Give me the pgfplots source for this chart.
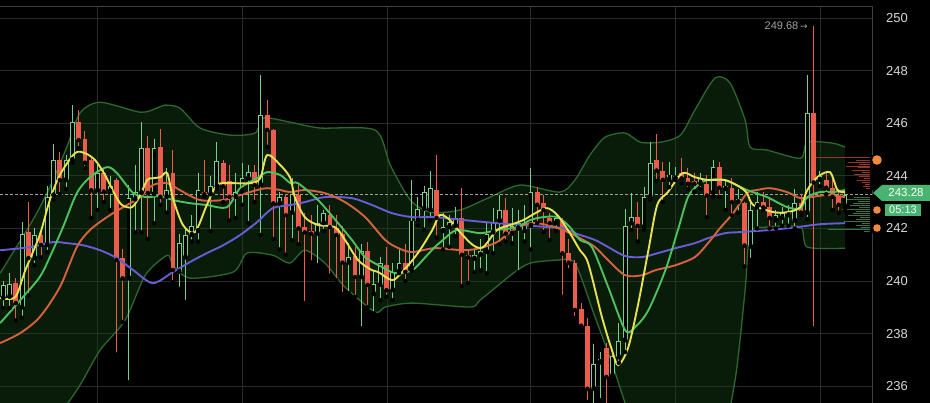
\documentclass[border=0pt]{standalone}
\usepackage{fontspec}
\setmainfont{Liberation Sans}
\newfontfamily\dejavu{DejaVu Sans}
\usepackage{pgfplots}
\pgfplotsset{compat=1.18}
\usepackage{pgfplotstable}
\usepgfplotslibrary{fillbetween}
\pagecolor{black}

\definecolor{bbfill}{RGB}{22,76,26}
\definecolor{bbline}{RGB}{44,104,46}
\definecolor{mayel}{RGB}{232,226,82}
\definecolor{magrn}{RGB}{78,192,92}
\definecolor{maorg}{RGB}{214,98,62}
\definecolor{mapur}{RGB}{106,92,212}
\definecolor{cgreen}{RGB}{122,206,138}
\definecolor{cred}{RGB}{236,92,76}
\definecolor{gridc}{RGB}{42,42,42}
\definecolor{axline}{RGB}{64,64,64}
\definecolor{ticklbl}{RGB}{215,215,215}
\definecolor{taggreen}{RGB}{72,180,112}
\definecolor{dotorg}{RGB}{240,136,62}
\definecolor{annot}{RGB}{160,160,160}
\definecolor{vpred}{RGB}{150,52,46}
\definecolor{vpgrn}{RGB}{44,120,78}

% green (rising) candles: index open high low close
\pgfplotstableread{
i o h l c
0 239.35 240.00 238.97 239.85
1 239.40 240.30 238.97 239.90
3 239.00 242.25 238.60 241.80
5 240.87 242.00 240.60 241.75
7 241.37 243.60 241.10 243.19
8 243.25 245.20 243.10 244.60
10 243.84 244.80 243.50 244.60
11 244.60 246.70 244.50 246.05
15 243.45 244.40 242.70 244.10
17 243.40 244.00 242.70 243.60
20 240.10 243.65 236.15 243.15
21 243.10 244.40 241.85 243.40
22 243.35 246.05 241.85 245.05
24 243.30 245.40 242.20 245.05
26 243.20 244.30 242.60 243.45
28 240.35 241.80 239.70 241.45
29 240.90 242.00 239.20 241.75
30 241.75 242.50 241.50 242.10
31 241.90 244.10 241.50 243.45
33 243.30 244.00 241.90 243.60
34 243.60 245.30 243.50 244.55
37 243.20 244.10 242.40 243.40
38 243.40 244.50 242.90 243.90
39 243.90 244.40 242.20 244.15
41 243.65 247.85 241.75 246.30
44 242.95 243.40 241.20 243.20
46 242.60 243.90 241.55 243.30
50 241.80 242.90 240.60 242.20
51 242.20 242.70 241.90 242.60
55 240.70 241.44 239.54 240.90
57 240.15 241.40 238.20 241.15
59 239.50 240.41 238.78 239.90
60 239.85 240.91 239.27 240.70
62 239.65 240.68 239.27 240.35
63 240.35 241.25 240.30 240.70
65 240.50 243.85 240.40 242.30
66 242.30 243.19 242.13 242.75
67 242.75 243.60 241.95 243.40
68 242.70 244.20 242.30 243.55
70 241.90 242.60 241.20 242.05
71 242.05 242.50 241.30 242.25
72 242.10 242.80 241.70 242.40
75 240.85 241.17 240.34 241.00
76 241.00 241.60 240.40 241.15
77 241.10 242.24 240.30 241.80
78 241.85 242.77 241.06 242.25
79 242.30 243.27 241.40 242.70
81 241.80 242.77 241.44 242.10
82 242.00 242.70 240.34 242.20
83 241.90 242.90 241.50 242.20
84 242.10 244.30 241.20 243.40
88 242.20 242.60 241.90 242.40
94 235.90 237.60 235.20 236.85
95 236.90 237.29 235.47 237.05
97 236.40 237.37 236.23 237.15
98 237.10 238.40 236.88 237.70
99 237.75 242.75 237.30 242.10
100 242.20 243.34 241.94 242.45
102 242.05 243.57 241.94 243.20
103 243.20 245.30 243.10 244.50
106 243.85 244.52 243.57 244.05
107 243.90 244.33 243.84 244.00
111 243.70 244.10 243.50 243.90
113 243.35 244.60 243.19 244.35
115 243.50 243.84 242.70 243.60
117 243.00 243.50 242.60 243.10
119 241.30 243.00 240.80 242.70
120 242.80 243.40 242.00 243.00
123 242.30 242.70 242.00 242.50
124 242.40 242.80 242.10 242.60
125 242.50 242.90 242.10 242.60
126 242.30 243.50 242.00 242.95
128 242.60 247.83 242.35 246.40
130 243.85 244.20 243.60 244.00
134 242.85 243.40 242.70 243.28
}\upc

% red (falling) candles
\pgfplotstableread{
i o h l c
2 239.92 240.10 238.50 239.16
4 241.85 243.00 239.45 240.87
6 241.75 242.00 240.90 241.37
9 244.60 244.90 243.30 243.84
12 246.05 246.50 245.05 245.36
13 245.40 245.70 244.30 244.50
14 244.60 244.70 242.40 243.45
16 244.10 244.30 243.00 243.40
18 243.84 243.90 237.20 240.80
19 240.87 241.20 238.44 240.10
23 245.05 245.50 241.60 243.35
25 245.10 245.80 242.90 243.20
27 244.10 244.97 239.95 240.42
32 243.40 244.60 243.20 243.30
35 244.50 244.60 243.00 243.60
36 243.80 244.40 242.30 243.20
40 244.15 244.40 243.00 243.65
42 246.30 246.90 245.10 245.75
43 245.75 245.80 241.60 242.95
45 243.20 243.30 241.00 242.50
47 243.27 243.70 241.40 242.00
48 242.05 242.60 239.16 241.85
49 241.90 242.50 240.70 241.80
52 242.50 242.90 240.20 242.05
53 242.00 242.50 240.03 241.75
54 241.80 242.10 239.50 240.70
56 240.95 241.30 239.40 240.15
58 241.15 241.50 239.00 239.85
61 240.60 241.30 239.40 239.65
64 240.70 241.40 240.00 240.35
69 243.45 244.80 241.65 242.40
73 242.40 243.55 239.80 241.00
74 241.00 241.17 239.92 240.90
80 242.70 243.15 241.50 241.80
85 243.40 243.57 242.20 242.90
86 242.95 243.27 241.86 242.70
87 242.40 242.58 241.56 242.20
89 242.30 242.40 239.40 241.05
90 241.05 241.60 240.40 240.70
91 240.70 240.80 238.60 238.90
92 238.95 239.16 238.13 238.30
93 238.30 238.60 235.40 235.90
96 237.45 237.65 235.30 236.35
101 242.45 243.00 241.50 242.10
104 244.60 245.60 243.80 244.20
105 244.20 244.52 243.00 243.85
108 244.10 244.67 243.72 243.90
109 243.90 244.30 243.50 243.70
110 243.80 244.10 243.40 243.70
112 243.70 244.03 242.43 243.25
114 244.35 244.52 243.19 243.55
116 243.55 243.90 242.50 243.00
118 242.95 243.00 240.55 241.35
121 243.00 243.40 242.70 242.80
122 242.80 243.20 242.00 242.40
127 242.95 243.30 242.50 242.60
129 246.40 249.68 238.20 243.75
131 243.85 244.20 243.30 243.55
132 243.55 243.90 242.70 243.20
133 243.20 243.50 242.60 242.90
}\dnc

\pgfplotstableread{
x y
-0.5 240.30
4.7 242.32
7.4 243.57
10.1 245.09
12.2 246.39
15.4 246.80
21.8 246.42
24.5 246.58
25.7 246.69
28.1 246.58
31.3 245.82
36.1 245.55
40.1 245.63
41.4 246.20
45.7 246.04
50.4 245.82
59.2 245.74
61.6 244.41
64.8 243.08
68.0 242.62
72.7 242.70
77.5 243.19
82.3 243.65
88.6 243.38
91.0 243.84
93.4 244.79
95.8 245.47
99.0 245.63
101.4 245.28
104.6 245.28
107.8 245.55
110.1 246.50
113.3 247.72
115.7 247.53
118.1 246.12
118.9 245.09
121.6 244.98
126.9 244.67
128.0 245.28
132.1 245.24
134.0 245.09
}\bbup

\pgfplotstableread{
x y
-0.5 232.80
5.8 233.95
11.7 235.85
15.4 237.37
19.4 238.51
22.6 240.22
26.1 240.98
27.0 240.60
29.7 240.11
36.6 240.34
38.8 241.06
42.9 240.98
45.6 240.68
48.0 241.17
51.2 240.68
54.4 239.77
59.2 238.82
60.8 239.01
65.1 239.16
74.3 239.01
75.9 239.27
81.2 240.30
83.9 240.68
88.2 240.79
91.0 240.68
94.2 238.63
96.9 236.88
99.0 235.36
101.4 233.95
107.8 233.19
114.1 233.95
116.5 236.23
118.1 239.65
118.9 241.82
121.6 242.05
126.9 242.05
128.0 241.29
134.0 241.25
}\bblo

\pgfplotstableread{
x y
-0.5 239.35
1.9 239.39
3.5 240.41
5.8 241.75
7.4 243.08
9.0 244.03
11.4 244.86
13.0 244.86
14.6 244.60
16.2 244.03
17.8 243.27
18.9 242.89
20.5 242.81
21.8 243.27
22.9 243.84
23.8 243.91
25.0 243.95
26.1 244.10
27.0 243.15
28.6 242.13
30.5 241.86
32.4 242.89
34.0 243.65
36.1 243.72
39.3 243.72
40.9 243.91
42.0 244.79
44.1 244.41
45.7 243.91
46.4 243.19
48.0 242.43
50.1 242.13
52.8 242.05
54.4 241.56
56.5 240.79
58.7 240.41
59.7 240.34
61.9 240.03
63.5 240.34
66.0 241.06
68.3 241.94
69.5 242.51
71.1 242.32
72.7 241.86
74.8 241.36
76.4 241.29
78.6 241.94
80.7 242.13
82.8 242.32
85.0 242.62
86.6 242.77
88.2 242.51
90.2 241.82
91.8 241.17
93.1 240.68
95.3 238.63
96.9 237.37
97.9 236.80
99.5 237.48
101.1 239.16
102.7 241.17
104.1 242.89
105.8 243.38
108.1 244.10
110.1 243.95
112.2 243.84
114.9 243.84
117.3 243.57
118.4 243.34
119.4 242.89
122.6 242.62
124.8 242.62
126.9 242.81
128.0 243.46
129.6 243.95
131.6 244.14
132.8 243.46
134.0 243.38
}\mayellow

\pgfplotstableread{
x y
-0.5 238.40
2.7 239.27
5.8 240.15
7.4 240.91
9.5 242.05
11.7 243.34
13.8 243.95
16.5 244.33
18.1 244.10
20.7 243.34
22.9 243.19
25.0 243.23
27.0 243.08
29.7 242.96
32.4 242.89
35.6 242.81
37.7 243.53
40.4 243.91
42.0 244.14
44.1 244.03
45.7 243.72
46.9 243.72
50.1 243.08
53.3 242.20
55.5 241.56
57.6 240.91
60.3 240.53
62.4 240.30
65.1 240.41
67.2 240.91
68.7 241.29
70.0 241.56
72.2 241.94
75.9 241.82
78.6 241.94
81.8 242.05
83.9 242.32
86.0 242.43
88.2 242.43
90.2 242.05
91.8 241.56
93.7 241.29
96.3 239.77
99.0 238.13
100.6 238.25
102.7 238.89
105.4 240.41
107.4 241.94
109.0 243.19
110.6 243.65
112.2 243.84
114.9 243.84
118.4 243.46
121.6 243.19
124.8 242.81
126.9 242.77
128.0 243.19
130.0 243.38
132.1 243.38
134.0 243.46
}\magreen

\pgfplotstableread{
x y
-0.5 237.64
2.7 238.02
5.8 238.63
9.0 239.77
11.7 241.29
13.8 241.94
16.5 242.43
19.1 242.81
21.8 243.19
23.8 243.65
26.1 243.72
28.1 243.46
31.3 243.08
35.0 243.08
37.7 243.27
40.4 243.46
42.0 243.53
44.1 243.46
45.7 243.38
48.0 243.46
51.2 243.34
54.4 243.00
57.6 242.43
60.8 241.56
62.9 241.25
65.1 241.10
68.7 241.25
73.2 241.17
75.9 241.25
78.6 241.48
81.2 241.94
83.9 242.20
86.6 242.13
89.1 241.94
91.8 241.63
94.2 241.29
96.3 240.79
99.0 240.22
101.7 240.22
103.8 240.41
107.0 240.60
110.1 240.91
112.2 241.44
114.1 242.01
116.2 242.58
118.4 243.34
120.0 243.46
122.1 243.53
124.8 243.38
126.9 243.15
128.5 243.19
131.2 243.27
134.0 243.19
}\maorange

\pgfplotstableread{
x y
-0.5 241.17
4.3 241.29
7.9 241.48
10.1 241.44
12.7 241.36
15.4 241.17
18.1 240.87
20.7 240.41
23.8 239.92
27.0 240.34
29.7 240.72
32.4 241.06
35.0 241.36
37.7 241.75
40.4 242.24
42.9 242.77
45.7 242.89
48.0 243.00
51.2 243.19
55.5 243.15
58.7 242.89
61.9 242.58
65.1 242.43
68.7 242.43
73.2 242.32
78.6 242.20
82.8 242.13
86.6 242.05
89.1 242.01
91.0 241.82
94.2 241.56
96.3 241.29
99.0 240.95
101.7 240.91
104.2 241.06
107.0 241.25
110.1 241.44
112.2 241.63
114.9 241.82
117.3 241.86
122.1 241.94
126.4 242.05
130.0 242.16
134.0 242.20
}\mapurple

\pgfplotstableread{
x y len
138.3 244.71 9.1
138.3 244.60 2.6
138.3 244.52 3.8
138.3 244.45 2.0
138.3 244.37 4.2
138.3 244.30 2.2
138.3 244.22 3.2
138.3 244.14 1.6
138.3 244.06 2.8
138.3 243.99 2.0
138.3 243.91 1.3
138.3 243.84 2.4
138.3 243.76 1.6
138.3 243.68 1.1
138.3 243.61 1.4
138.3 243.53 0.9
}\vpr

\pgfplotstableread{
x y len
138.3 243.19 2.9
138.3 243.11 4.1
138.3 243.04 2.2
138.3 242.96 3.1
138.3 242.89 3.5
138.3 242.81 2.0
138.3 242.73 4.8
138.3 242.66 2.5
138.3 242.58 3.0
138.3 242.50 3.8
138.3 242.43 1.9
138.3 242.35 2.6
138.3 242.27 4.5
138.3 242.20 1.6
138.3 242.12 2.5
138.3 242.04 1.8
138.3 241.97 7.0
138.3 241.89 1.3
}\vpg

\begin{document}
\begin{tikzpicture}
\begin{axis}[
  at={(0pt,0pt)}, anchor=south west,
  scale only axis, width=872pt, height=397pt,
  xmin=-0.53, xmax=138.3, ymin=235.36, ymax=250.46,
  axis x line*=top, axis y line*=right,
  axis line style={draw=axline, line width=0.9pt},
  xtick={14.9,38.0,61.1,83.9,107.0,130.0}, xticklabels={},
  xticklabel style={inner sep=0pt},
  ytick={236,238,...,250},
  major tick length=0pt,
  xmajorgrids, ymajorgrids,
  major grid style={draw=gridc, line width=0.7pt},
  /pgf/number format/assume math mode=true,
  yticklabel style={font=\fontsize{13}{15}\selectfont, text=ticklbl, inner sep=0pt, xshift=14pt},
]
% Bollinger bands
\addplot [name path=bbu, draw=bbline, line width=1.3pt, smooth, tension=0.45, forget plot] table [x=x, y=y] {\bbup};
\addplot [name path=bbl, draw=bbline, line width=1.3pt, smooth, tension=0.45, forget plot] table [x=x, y=y] {\bblo};
\addplot [fill=bbfill, fill opacity=0.38, draw=none, forget plot] fill between [of=bbu and bbl];

% current price line
\addplot [draw=annot, line width=0.8pt, dash pattern=on 2.5pt off 2.5pt, forget plot] coordinates {(-0.53,243.28) (138.3,243.28)};

% volume profile
\addplot [only marks, mark=none, forget plot, error bars/.cd, x dir=minus, x explicit, error mark=none, error bar style={line width=0.9pt, vpred}] table [x=x, y=y, x error minus=len] {\vpr};
\addplot [only marks, mark=none, forget plot, error bars/.cd, x dir=minus, x explicit, error mark=none, error bar style={line width=0.9pt, vpgrn}] table [x=x, y=y, x error minus=len] {\vpg};

% wicks
\addplot [only marks, mark=none, forget plot, error bars/.cd, y dir=plus, y explicit, error mark=none, error bar style={line width=1pt, cgreen}] table [x=i, y=l, y error plus expr={\thisrow{h}-\thisrow{l}}] {\upc};
\addplot [only marks, mark=none, forget plot, error bars/.cd, y dir=plus, y explicit, error mark=none, error bar style={line width=1pt, cred}] table [x=i, y=l, y error plus expr={\thisrow{h}-\thisrow{l}}] {\dnc};
% bodies
\addplot [only marks, mark=none, forget plot, error bars/.cd, y dir=plus, y explicit, error mark=none, error bar style={line width=4.8pt, cgreen}] table [x=i, y=o, y error plus expr={max(\thisrow{c}-\thisrow{o},0.04)}] {\upc};
\addplot [only marks, mark=none, forget plot, error bars/.cd, y dir=plus, y explicit, error mark=none, error bar style={line width=3.0pt, black}] table [x=i, y expr={\thisrow{o}+0.035}, y error plus expr={max(\thisrow{c}-\thisrow{o}-0.07,0)}] {\upc};
\addplot [only marks, mark=none, forget plot, error bars/.cd, y dir=plus, y explicit, error mark=none, error bar style={line width=4.8pt, cred}] table [x=i, y=c, y error plus expr={max(\thisrow{o}-\thisrow{c},0.04)}] {\dnc};

% moving averages
\addplot [draw=mapur, line width=1.9pt, smooth, tension=0.5, forget plot] table [x=x, y=y] {\mapurple};
\addplot [draw=maorg, line width=1.9pt, smooth, tension=0.5, forget plot] table [x=x, y=y] {\maorange};
\addplot [draw=magrn, line width=1.9pt, smooth, tension=0.5, forget plot] table [x=x, y=y] {\magreen};
\addplot [draw=mayel, line width=1.9pt, smooth, tension=0.5, forget plot] table [x=x, y=y] {\mayellow};

\node [anchor=east, inner sep=0pt, text=annot, font=\fontsize{11}{12}\selectfont] at (axis cs:128.1,249.72) {249.68\,{\dejavu\fontsize{9}{10}\selectfont →}};
\end{axis}
% price-scale widgets
\fill[dotorg] (877pt,243pt) circle (4.8pt);
\fill[dotorg] (877pt,193pt) circle (3.8pt);
\fill[dotorg] (877pt,175pt) circle (3.8pt);
\fill[taggreen] (873pt,210pt) -- (882pt,218pt) -- (930pt,218pt) -- (930pt,202pt) -- (882pt,202pt) -- cycle;
\node[text=white, inner sep=0pt, font=\fontsize{11.5}{13}\selectfont] at (906pt,210pt) {243.28};
\fill[taggreen] (885pt,187pt) rectangle (921pt,199pt);
\node[text=white, inner sep=0pt, font=\fontsize{11}{13}\selectfont] at (903pt,193pt) {05:13};
\pgfresetboundingbox
\useasboundingbox (0,0) rectangle (930pt,403pt);
\end{tikzpicture}
\end{document}
